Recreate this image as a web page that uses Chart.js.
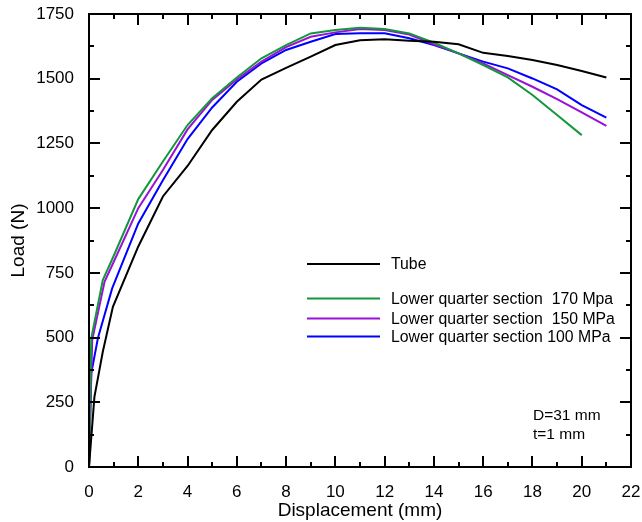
<!DOCTYPE html>
<html>
<head>
<meta charset="utf-8">
<script src="https://cdn.jsdelivr.net/npm/chart.js@4/dist/chart.umd.min.js"></script>
<style>
  html, body { margin: 0; padding: 0; background: #fff; }
  #wrap { width: 642px; height: 522px; }
</style>
</head>
<body>
<div id="wrap"><canvas id="c" width="642" height="522"></canvas></div>
<script>
// Load–displacement curves (displacement in mm, load in N)
const tubeDisp  = [0, 0.22, 0.56, 0.97, 2, 3, 4, 5, 6, 7, 8, 9, 10, 11, 12, 13, 14, 15, 16, 17, 18, 19, 20, 21];
const tubeLoad  = [0, 271, 445, 619, 852, 1045, 1163, 1302, 1411, 1497, 1542, 1585, 1630, 1649, 1652, 1647, 1643, 1633, 1600, 1588, 1572, 1553, 1530, 1505];

const lq170Disp = [0, 0.09, 0.56, 1, 2, 3, 4, 5, 6, 7, 8, 9, 10, 11, 12, 13, 14, 15, 16, 17, 18, 19, 20];
const lq170Load = [0, 496, 722, 815, 1035, 1180, 1321, 1425, 1505, 1579, 1630, 1675, 1688, 1697, 1692, 1675, 1639, 1598, 1553, 1505, 1437, 1360, 1282];

const lq150Disp = [0, 0.13, 0.63, 1, 2, 3, 4, 5, 6, 7, 8, 9, 10, 11, 12, 13, 14, 15, 16, 17, 18, 19, 20, 21];
const lq150Load = [0, 490, 715, 792, 1000, 1147, 1304, 1418, 1497, 1566, 1622, 1662, 1679, 1692, 1688, 1671, 1633, 1598, 1559, 1514, 1469, 1421, 1370, 1318];

const lq100Disp = [0, 0.09, 0.36, 0.94, 2, 3, 4, 5, 6, 7, 8, 9, 10, 11, 12, 13, 14, 15, 16, 17, 18, 19, 20, 21];
const lq100Load = [0, 361, 497, 690, 941, 1108, 1267, 1389, 1488, 1559, 1611, 1643, 1673, 1676, 1676, 1656, 1630, 1598, 1566, 1540, 1501, 1459, 1398, 1350];

const seriesNames  = ['Tube', 'Lower quarter section  170 Mpa', 'Lower quarter section  150 MPa', 'Lower quarter section 100 MPa'];
const seriesColors = ['#000000', '#14963c', '#9a10d8', '#0000ff'];

const xTicks = [0, 2, 4, 6, 8, 10, 12, 14, 16, 18, 20, 22];
const yTicks = [0, 250, 500, 750, 1000, 1250, 1500, 1750];
const noteLines = ['D=31 mm', 't=1 mm'];

const FONT = '"Liberation Sans", Arial, sans-serif';

function pairs(xs, ys) { return xs.map((x, i) => ({ x: x, y: ys[i] })); }

const allDisp = [tubeDisp, lq170Disp, lq150Disp, lq100Disp];
const allLoad = [tubeLoad, lq170Load, lq150Load, lq100Load];

const datasets = seriesNames.map((name, i) => ({
  label: name,
  data: pairs(allDisp[i], allLoad[i]),
  borderColor: seriesColors[i],
  backgroundColor: seriesColors[i],
  borderWidth: 2,
  pointRadius: 0,
  tension: 0,
  fill: false
}));

// Frame with inward major/minor ticks on all four sides, plus the in-plot key and note
const framePlugin = {
  id: 'frame',
  afterDatasetsDraw(chart) {
    const ctx = chart.ctx;
    const xs = chart.scales.x, ys = chart.scales.y;
    const L = xs.left, R = xs.right, T = ys.top, B = ys.bottom;
    ctx.save();
    ctx.strokeStyle = '#000';
    ctx.lineWidth = 2;
    ctx.beginPath();
    ctx.rect(L, T, R - L, B - T);
    ctx.stroke();

    ctx.beginPath();
    for (let v = 0; v <= 22; v += 1) {
      const len = (v % 2 === 0) ? 11 : 5;
      const px = Math.round(xs.getPixelForValue(v));
      ctx.moveTo(px, B); ctx.lineTo(px, B - len);
      ctx.moveTo(px, T); ctx.lineTo(px, T + len);
    }
    for (let v = 0; v <= 1750; v += 125) {
      const len = (v % 250 === 0) ? 11 : 5;
      const py = Math.round(ys.getPixelForValue(v));
      ctx.moveTo(L, py); ctx.lineTo(L + len, py);
      ctx.moveTo(R, py); ctx.lineTo(R - len, py);
    }
    ctx.stroke();

    // key
    const keyRows = [264, 298.5, 318.5, 336.5];
    ctx.font = '15.8px ' + FONT;
    ctx.textBaseline = 'middle';
    ctx.textAlign = 'left';
    keyRows.forEach((yy, i) => {
      ctx.strokeStyle = seriesColors[i];
      ctx.lineWidth = 2;
      ctx.beginPath();
      ctx.moveTo(307, yy); ctx.lineTo(380, yy);
      ctx.stroke();
      ctx.fillStyle = '#000';
      ctx.fillText(seriesNames[i], 391, yy + 1);
    });

    // specimen note
    ctx.font = '15.5px ' + FONT;
    ctx.fillText(noteLines[0], 533, 416);
    ctx.fillText(noteLines[1], 533, 435);
    ctx.restore();
  }
};

new Chart(document.getElementById('c'), {
  type: 'line',
  data: { datasets: datasets },
  options: {
    responsive: false,
    animation: false,
    devicePixelRatio: 1,
    layout: { padding: { left: 0, right: 11, top: 14, bottom: 0 } },
    plugins: { legend: { display: false }, tooltip: { enabled: false } },
    scales: {
      x: {
        type: 'linear',
        min: 0, max: 22,
        afterBuildTicks(scale) { scale.ticks = xTicks.map(v => ({ value: v })); },
        afterFit(scale) { scale.height = 55; scale.paddingLeft = 0; scale.paddingRight = 0; },
        grid: { display: false, drawTicks: false },
        border: { display: false },
        ticks: { color: '#000', font: { family: FONT, size: 17 }, padding: 15, maxRotation: 0,
                 callback: v => String(v) },
        title: { display: true, text: 'Displacement (mm)', color: '#000', font: { family: FONT, size: 19 }, padding: { top: 0, bottom: 0 } }
      },
      y: {
        type: 'linear',
        min: 0, max: 1750,
        afterBuildTicks(scale) { scale.ticks = yTicks.map(v => ({ value: v })); },
        afterFit(scale) { scale.width = 89; scale.paddingTop = 0; scale.paddingBottom = 0; },
        grid: { display: false, drawTicks: false },
        border: { display: false },
        ticks: { color: '#000', font: { family: FONT, size: 17 }, padding: 15,
                 callback: v => String(v) },
        title: { display: true, text: 'Load (N)', color: '#000', font: { family: FONT, size: 19 }, padding: { top: 7, bottom: 0 } }
      }
    }
  },
  plugins: [framePlugin]
});
</script>
</body>
</html>
